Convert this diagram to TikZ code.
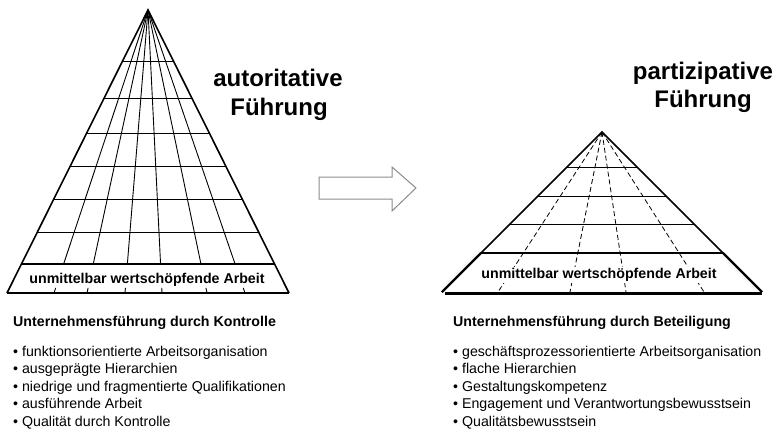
\documentclass[tikz,border=0pt]{standalone}
\usepackage{fontspec}
\setmainfont{Liberation Sans}
\usetikzlibrary{calc}
\begin{document}
\begin{tikzpicture}[x=1pt,y=-1pt,
  edge/.style={line width=1.6pt, line join=miter},
  gridline/.style={line width=0.9pt},
  bandline/.style={line width=2.6pt},
  dline/.style={line width=0.8pt, dash pattern=on 5pt off 3pt},
  lbl/.style={font=\fontsize{14.2}{17}\selectfont\bfseries, inner sep=0pt},
  title/.style={font=\fontsize{24}{28}\selectfont\bfseries, inner sep=0pt, anchor=base},
  item/.style={font=\fontsize{14.2}{17}\selectfont, inner sep=0pt, anchor=base west},
  head/.style={font=\fontsize{14.2}{17}\selectfont\bfseries, inner sep=0pt, anchor=base west},
  arrowsty/.style={draw=black!45, line width=1pt, fill=white, line join=miter}
]
\useasboundingbox (0,0) rectangle (777,429);
\fill[white] (0,0) rectangle (777,429);

% ---------- left pyramid ----------
\coordinate (A1) at (148,10);
\coordinate (L1) at (7,293);
\coordinate (R1) at (289,293);
\foreach \y in {61,98,133,166,199,232} {
  \pgfmathsetmacro\t{(\y-10)/283}
  \draw[gridline] ($(A1)!\t!(L1)$) -- ($(A1)!\t!(R1)$);
}
\foreach \x in {54,87,125,162,207,245} {
  \draw[gridline] (A1) -- ($(A1)!0.8975!(\x,293)$);
  \draw[gridline] ($(A1)!0.982!(\x,293)$) -- (\x,293);
}
\draw[bandline] ($(A1)!0.8975!(L1)$) -- ($(A1)!0.8975!(R1)$);
\draw[bandline] (L1) -- (R1);
\draw[edge] (L1) -- (A1) -- (R1);
\node[lbl] (band1) at (147,280) {unmittelbar wertschöpfende Arbeit};

\node[title] (t1a) at (278,86.5) {autoritative};
\node[title] (t1b) at (279,115) {Führung};

% ---------- arrow ----------
\draw[arrowsty] (319,177) -- (392,177) -- (392,167) -- (416,188) -- (392,211) -- (392,199) -- (319,199) -- cycle;

% ---------- right pyramid ----------
\coordinate (A2) at (602,132);
\coordinate (L2) at (442,292);
\coordinate (R2) at (762,292);
\foreach \y in {167,196,224} {
  \pgfmathsetmacro\t{(\y-132)/160}
  \draw[gridline] ($(A2)!\t!(L2)$) -- ($(A2)!\t!(R2)$);
}
\foreach \x in {498,570,626,704} {
  \draw[dline] (A2) -- (\x,292);
}
\draw[bandline] ($(A2)!0.756!(L2)$) -- ($(A2)!0.756!(R2)$);
\draw[edge] (L2) -- (A2) -- (R2);
\draw[line width=2.2pt] ($(A2)!0.756!(L2)$) -- (L2);
\draw[line width=2.2pt] ($(A2)!0.756!(R2)$) -- (R2);
\draw[line width=3pt] ($(L2)+(3,1.5)$) -- ($(R2)+(0,1.5)$);
\node[lbl, fill=white, inner sep=1pt] (band2) at (599,275) {unmittelbar wertschöpfende Arbeit};

\node[title] (t2a) at (703,79.5) {partizipative};
\node[title] (t2b) at (703,107) {Führung};

% ---------- left list ----------
\node[head] (h1) at (13,326) {Unternehmensführung durch Kontrolle};
\node[item] (l1) at (13,356) {• funktionsorientierte Arbeitsorganisation};
\node[item] (l2) at (13,373.5) {• ausgeprägte Hierarchien};
\node[item] (l3) at (13,391) {• niedrige und fragmentierte Qualifikationen};
\node[item] (l4) at (13,408.5) {• ausführende Arbeit};
\node[item] (l5) at (13,426) {• Qualität durch Kontrolle};

% ---------- right list ----------
\node[head] (h2) at (453,326) {Unternehmensführung durch Beteiligung};
\node[item] (r1) at (453,356) {• geschäftsprozessorientierte Arbeitsorganisation};
\node[item] (r2) at (453,373.5) {• flache Hierarchien};
\node[item] (r3) at (453,391) {• Gestaltungskompetenz};
\node[item] (r4) at (453,408.5) {• Engagement und Verantwortungsbewusstsein};
\node[item] (r5) at (453,426) {• Qualitätsbewusstsein};
\end{tikzpicture}
\end{document}
